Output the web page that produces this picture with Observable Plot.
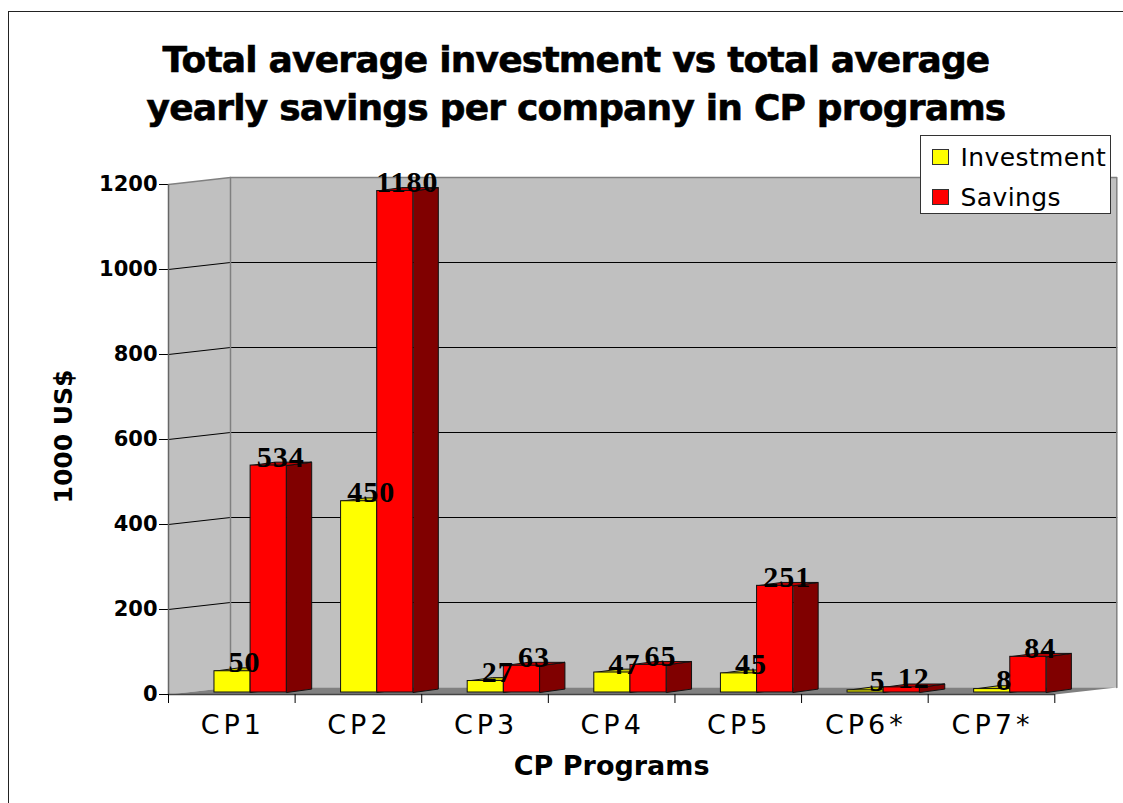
<!DOCTYPE html>
<html><head><meta charset="utf-8">
<script src="https://cdn.jsdelivr.net/npm/d3@7"></script>
<script src="https://cdn.jsdelivr.net/npm/@observablehq/plot@0.6"></script>
<style>
html,body{margin:0;padding:0;background:#fff;overflow:hidden}
body{position:relative;width:1123px;height:803px;font-family:"DejaVu Sans",sans-serif}
#frame{position:absolute;left:8px;top:11px;width:1200px;height:900px;border:1.5px solid #222;box-sizing:border-box}
#title{position:absolute;left:0;top:36px;width:1152px;margin:0;text-align:center;font-size:36px;letter-spacing:-0.8px;-webkit-text-stroke:0.6px #000;line-height:48px;font-weight:700;color:#000;white-space:nowrap}
#chart{position:absolute;left:0;top:130px}
#legend{position:absolute;left:919.5px;top:135px;width:191px;height:79px;background:#fff;border:1.5px solid #333;box-sizing:border-box;z-index:2}
#legend div{position:absolute;left:40px;font-size:25px;letter-spacing:0.4px;line-height:30px;color:#000;white-space:nowrap}
#legend i{position:absolute;left:-29px;top:6px;width:17px;height:16px;border:1px solid #333;box-sizing:border-box}
.catlab text{letter-spacing:4px}
.vallab text{-webkit-text-stroke:0.4px #000;letter-spacing:1px}
</style></head>
<body>
<div id="frame"></div>
<h1 id="title">Total average investment vs total average<br>yearly savings per company in CP programs</h1>
<div id="chart"></div>
<div id="legend">
<div style="top:7px"><i style="background:#ff0"></i>Investment</div>
<div style="top:47px"><i style="background:#f00"></i>Savings</div>
</div>
<script>
const categories = ["CP1","CP2","CP3","CP4","CP5","CP6*","CP7*"];
const investment = [50,450,27,47,45,5,8];
const savings = [534,1180,63,65,251,12,84];
const yTicks = [0,200,400,600,800,1000,1200];

// projection of the 3D box, in data units
const wallX = 0.4897, wallY = 16.47; // back wall offset
const depthX = 0.197, depthY = 8;    // bar depth offset
const barW = 0.2855, barStart = 0.363;

function poly(points, key){ return points.map(([x,y]) => ({x,y,key})); }
const wallBack = poly([[wallX,wallY],[7+wallX,wallY],[7+wallX,1200+wallY],[wallX,1200+wallY]],"back");
const wallLeft = poly([[0,0],[wallX,wallY],[wallX,1200+wallY],[0,1200]],"left");
const floor3d = poly([[0,0],[7,0],[7+wallX,wallY],[wallX,wallY]],"floor");
const grid = yTicks.slice(1,-1).flatMap(v => poly([[0,v],[wallX,v+wallY],[7+wallX,v+wallY]],"g"+v));
const wallEdges = poly([[0,1200],[wallX,1200+wallY],[7+wallX,1200+wallY],[7+wallX,wallY]],"top")
  .concat(poly([[wallX,wallY],[wallX,1200+wallY]],"inner"));

function bars(values, slot){
  const rows = values.map((v,i)=>({i,v,label:String(v),x1:i+barStart+slot*barW,x2:i+barStart+(slot+1)*barW}));
  return {
    rows,
    side: rows.flatMap(r=>poly([[r.x2,0],[r.x2+depthX,depthY],[r.x2+depthX,r.v+depthY],[r.x2,r.v]],r.i)),
    top: rows.flatMap(r=>poly([[r.x1,r.v],[r.x2,r.v],[r.x2+depthX,r.v+depthY],[r.x1+depthX,r.v+depthY]],r.i))
  };
}
const inv = bars(investment,0), sav = bars(savings,1);
const shape = {x:"x",y:"y",z:"key",curve:"linear-closed"};
function barMarks(b, front, top, side){
  return [
    Plot.line(b.side,{...shape,fill:side,stroke:"#111",strokeWidth:1,dy:-2}),
    Plot.line(b.top,{...shape,fill:top,stroke:"#111",strokeWidth:1,dy:-2}),
    Plot.rect(b.rows,{x1:"x1",x2:"x2",y1:0,y2:"v",fill:front,stroke:"#111",strokeWidth:1,dy:-2})
  ];
}
const textFont = {fontFamily:"'DejaVu Sans',sans-serif"};
const valueLabel = {text:"label",fontFamily:"'Liberation Serif',serif",fontWeight:700,fontSize:30,fill:"#000",lineAnchor:"bottom",dx:12,dy:-1,className:"vallab"};

const plot = Plot.plot({
  width:1123, height:673,
  marginLeft:168, marginRight:68.7, marginTop:54, marginBottom:109,
  x:{type:"linear",domain:[0,7],axis:null},
  y:{type:"linear",domain:[0,1200],axis:null},
  style:{background:"transparent",overflow:"visible"},
  marks:[
    Plot.line(wallBack,{...shape,fill:"#c0c0c0",stroke:"none"}),
    Plot.line(wallLeft,{...shape,fill:"#c0c0c0",stroke:"none"}),
    Plot.line(floor3d,{...shape,fill:"#808080",stroke:"none"}),
    Plot.line(grid,{x:"x",y:"y",z:"key",stroke:"#000",strokeWidth:1}),
    Plot.line(wallEdges,{x:"x",y:"y",z:"key",stroke:"#808080",strokeWidth:1.5}),
    Plot.axisY({ticks:yTicks,tickSize:9,tickPadding:2,tickFormat:d=>String(d),label:null,stroke:"#000",...textFont,fontWeight:700,fontSize:21,fill:"#000"}),
    Plot.ruleX([0],{stroke:"#666",strokeWidth:1.5}),
    Plot.ruleY([0],{stroke:"#444",strokeWidth:1.5}),
    Plot.axisX({ticks:d3.range(8),tickSize:9,tickFormat:()=>"",label:null,stroke:"#000"}),
    Plot.text(categories,{x:(d,i)=>i+0.5,y:()=>0,dy:31,dx:1,...textFont,fontSize:27,fill:"#000",className:"catlab"}),
    ...barMarks(inv,"#ffff00","#c8c800","#808000"),
    ...barMarks(sav,"#ff0000","#bb0000","#800000"),
    Plot.text(inv.rows,{x:r=>(r.x1+r.x2)/2,y:"v",...valueLabel}),
    Plot.text(sav.rows,{x:r=>(r.x1+r.x2)/2,y:"v",...valueLabel}),
    Plot.text(["CP Programs"],{x:()=>3.5,y:()=>0,dy:72,...textFont,fontWeight:700,fontSize:27,fill:"#000"}),
    Plot.text(["1000 US$"],{x:()=>0,y:()=>600,dx:-105,dy:-3,rotate:-90,...textFont,fontWeight:700,fontSize:25,fill:"#000"})
  ]
});
document.getElementById("chart").appendChild(plot);
</script>
</body></html>
